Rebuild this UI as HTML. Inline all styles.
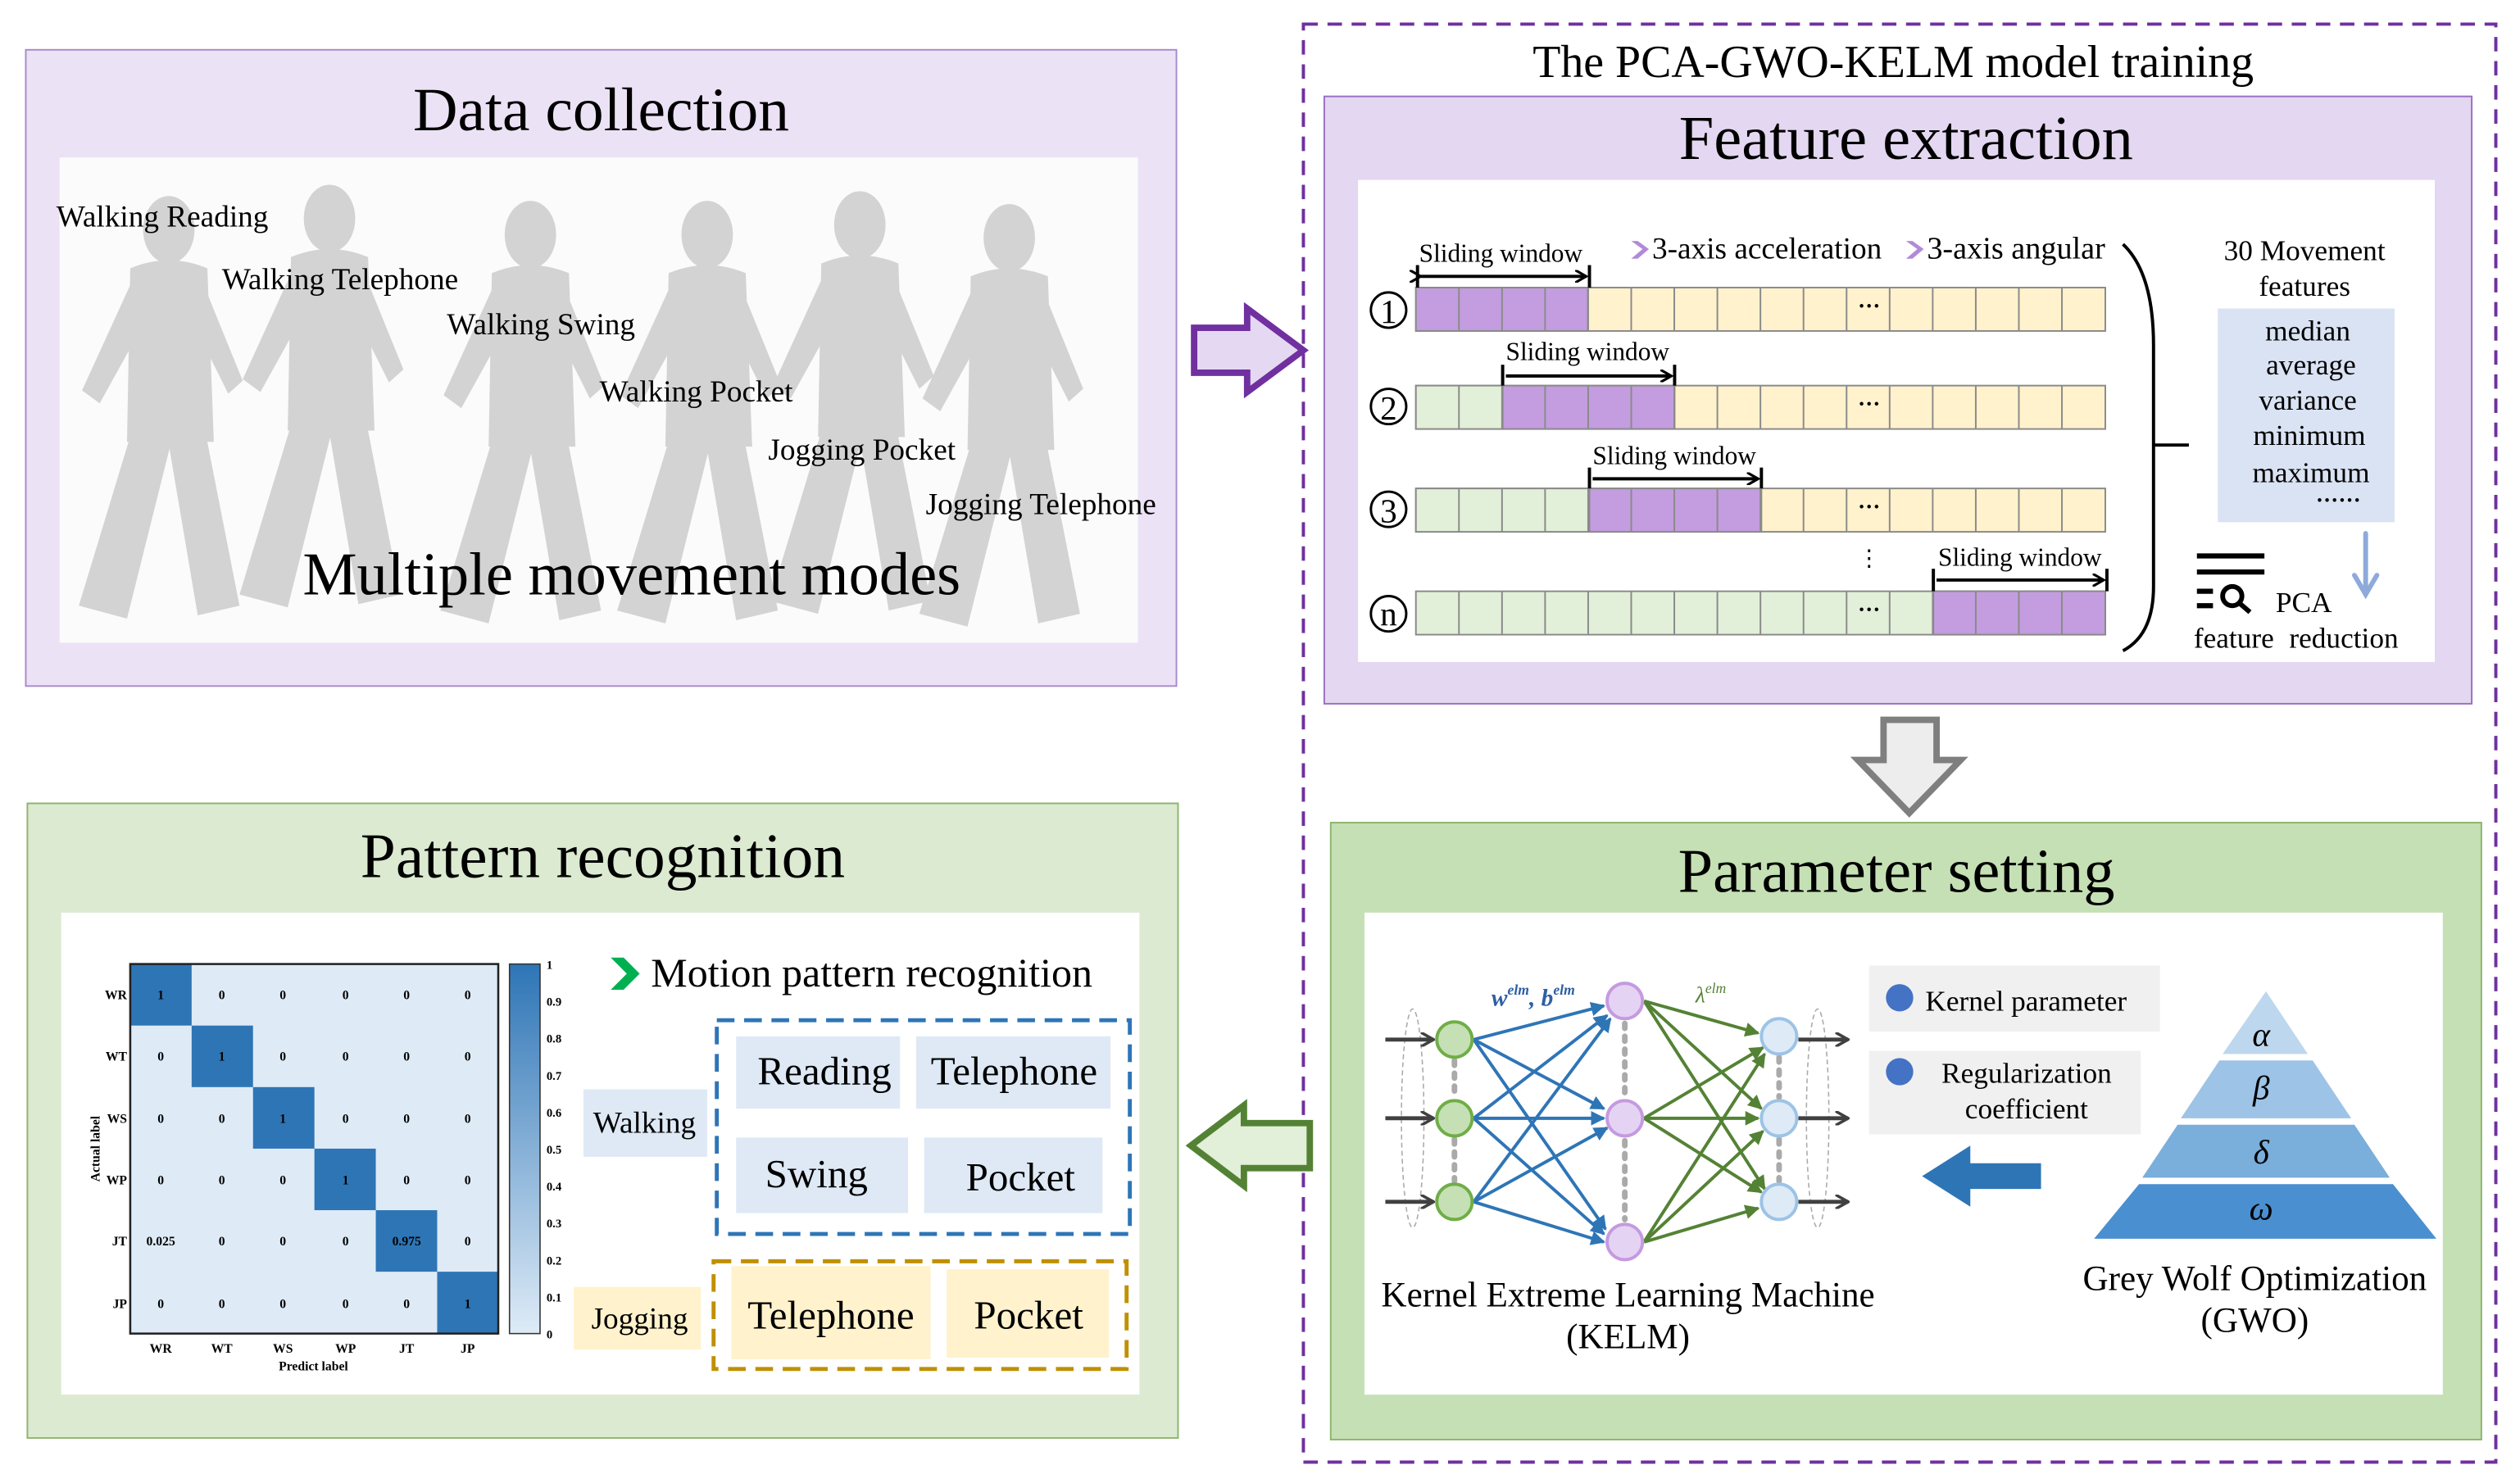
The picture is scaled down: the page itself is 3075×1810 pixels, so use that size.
<!DOCTYPE html>
<html><head><meta charset="utf-8"><style>
html,body{margin:0;padding:0;background:#fff;}
svg{display:block;}
text{font-family:"Liberation Serif",serif;fill:#000;}
</style></head><body>
<svg width="3075" height="1810" viewBox="0 0 1568 923" xmlns="http://www.w3.org/2000/svg">
<defs>
<marker id="ah" markerWidth="8" markerHeight="8" refX="7" refY="4" orient="auto" markerUnits="userSpaceOnUse"><path d="M0,0 L7,4 L0,8" fill="none" stroke="#000" stroke-width="1.6"/></marker>
<marker id="ab" markerWidth="9" markerHeight="9" refX="8" refY="4.5" orient="auto" markerUnits="userSpaceOnUse"><path d="M0,0 L9,4.5 L0,9 z" fill="#2e75b6"/></marker>
<marker id="ag" markerWidth="9" markerHeight="9" refX="8" refY="4.5" orient="auto" markerUnits="userSpaceOnUse"><path d="M0,0 L9,4.5 L0,9 z" fill="#548235"/></marker>
<marker id="ak" markerWidth="9" markerHeight="9" refX="8" refY="4.5" orient="auto" markerUnits="userSpaceOnUse"><path d="M0,0 L8,4.5 L0,9" fill="none" stroke="#404040" stroke-width="1.8"/></marker>
<linearGradient id="cb" x1="0" y1="1" x2="0" y2="0"><stop offset="0" stop-color="#deebf7"/><stop offset="1" stop-color="#2e75b6"/></linearGradient>
<g id="person" fill="#d3d3d3">
<ellipse cx="0" cy="18" rx="16" ry="21"/>
<path d="M-24,42 Q0,32 24,42 L28,150 L-26,150 Z"/>
<path d="M-22,140 L4,140 L-26,260 L-56,252 Z"/>
<path d="M-2,140 L22,140 L44,252 L18,258 Z"/>
<path d="M-22,48 L-54,118 L-43,126 L-12,70 Z"/>
<path d="M20,48 L46,112 L37,120 L12,70 Z"/>
</g>
<path id="grid" d="M907.8,0V27M934.6,0V27M961.4,0V27M988.2,0V27M1015,0V27M1041.8,0V27M1068.6,0V27M1095.4,0V27M1122.2,0V27M1149,0V27M1175.8,0V27M1202.6,0V27M1229.4,0V27M1256.2,0V27M1283,0V27" stroke="#8a8a8a" stroke-width="1"/>
</defs>

<!-- Data collection -->
<rect x="16" y="31" width="716" height="396" fill="#ece2f5" stroke="#a98bcc" stroke-width="1"/>
<text x="374" y="81" font-size="38.5" text-anchor="middle">Data collection</text>
<rect x="37" y="98" width="671" height="302" fill="#fbfbfb"/>
<use href="#person" transform="translate(105,125)"/>
<use href="#person" transform="translate(205,118)"/>
<use href="#person" transform="translate(330,128)"/>
<use href="#person" transform="translate(440,128)"/>
<use href="#person" transform="translate(535,122)"/>
<use href="#person" transform="translate(628,130)"/>
<g font-size="19">
<text x="35" y="141">Walking Reading</text>
<text x="138" y="180">Walking Telephone</text>
<text x="278" y="208">Walking Swing</text>
<text x="373" y="250">Walking Pocket</text>
<text x="478" y="286">Jogging Pocket</text>
<text x="576" y="320">Jogging Telephone</text>
</g>
<text x="393" y="370" font-size="38" text-anchor="middle">Multiple movement modes</text>

<!-- purple hollow arrow -->
<path d="M743,204 L776,204 L776,192 L811,218 L776,244 L776,232 L743,232 Z" fill="#e5d8f2" stroke="#7030a0" stroke-width="4"/>

<!-- dashed box -->
<rect x="811" y="15" width="742" height="895" fill="none" stroke="#7030a0" stroke-width="2" stroke-dasharray="9,6"/>
<text x="1178" y="48" font-size="28.5" text-anchor="middle">The PCA-GWO-KELM model training</text>

<!-- Feature extraction -->
<rect x="824" y="60" width="714" height="378" fill="#e4d7f1" stroke="#9b6fc4" stroke-width="1"/>
<text x="1186" y="99" font-size="39" text-anchor="middle">Feature extraction</text>
<rect x="845" y="112" width="670" height="300" fill="#fff"/>

<g stroke="#8a8a8a" stroke-width="1">
<rect x="881" y="179" width="429" height="27" fill="#fff2cc"/>
<rect x="881" y="179" width="107" height="27" fill="#c39ddf"/>
<rect x="881" y="240" width="429" height="27" fill="#fff2cc"/>
<rect x="881" y="240" width="54" height="27" fill="#e2efd9"/>
<rect x="935" y="240" width="107" height="27" fill="#c39ddf"/>
<rect x="881" y="304" width="429" height="27" fill="#fff2cc"/>
<rect x="881" y="304" width="108" height="27" fill="#e2efd9"/>
<rect x="989" y="304" width="107" height="27" fill="#c39ddf"/>
<rect x="881" y="368" width="429" height="27" fill="#e2efd9"/>
<rect x="1203" y="368" width="107" height="27" fill="#c39ddf"/>
</g>
<use href="#grid" y="179"/><use href="#grid" y="240"/><use href="#grid" y="304"/><use href="#grid" y="368"/>
<g font-size="14" text-anchor="middle" font-weight="bold">
<text x="1163" y="195">···</text><text x="1163" y="256">···</text><text x="1163" y="320">···</text><text x="1163" y="384">···</text>
</g>
<text x="1163" y="352" font-size="14" text-anchor="middle">⋮</text>
<g font-size="24" text-anchor="middle">
<circle cx="864" cy="193" r="11" fill="none" stroke="#000" stroke-width="1.5"/><text x="864" y="201" font-size="21">1</text>
<circle cx="864" cy="253" r="11" fill="none" stroke="#000" stroke-width="1.5"/><text x="864" y="261" font-size="21">2</text>
<circle cx="864" cy="317" r="11" fill="none" stroke="#000" stroke-width="1.5"/><text x="864" y="325" font-size="21">3</text>
<circle cx="864" cy="382" r="11" fill="none" stroke="#000" stroke-width="1.5"/><text x="864" y="389" font-size="21">n</text>
</g>
<g stroke="#000" stroke-width="2">
<line x1="882" y1="165" x2="882" y2="179"/><line x1="989" y1="165" x2="989" y2="179"/>
<line x1="884" y1="172" x2="987" y2="172" marker-end="url(#ah)" marker-start="url(#ah)"/>
<line x1="935" y1="227" x2="935" y2="240"/><line x1="1042" y1="227" x2="1042" y2="240"/>
<line x1="937" y1="234" x2="1040" y2="234" marker-end="url(#ah)"/>
<line x1="989" y1="291" x2="989" y2="304"/><line x1="1096" y1="291" x2="1096" y2="304"/>
<line x1="991" y1="298" x2="1094" y2="298" marker-end="url(#ah)"/>
<line x1="1203" y1="354" x2="1203" y2="368"/><line x1="1311" y1="354" x2="1311" y2="368"/>
<line x1="1205" y1="361" x2="1309" y2="361" marker-end="url(#ah)"/>
</g>
<g font-size="16">
<text x="883" y="163">Sliding window</text>
<text x="937" y="224">Sliding window</text>
<text x="991" y="289">Sliding window</text>
<text x="1206" y="352">Sliding window</text>
</g>
<path d="M1015,150 L1022,155 L1015,161 L1019,161 L1026,155 L1019,150Z" fill="#b28ad9"/>
<text x="1028" y="161" font-size="19">3-axis acceleration</text>
<path d="M1186,150 L1193,155 L1186,161 L1190,161 L1197,155 L1190,150Z" fill="#b28ad9"/>
<text x="1199" y="161" font-size="19.5">3-axis angular</text>
<path d="M1321,152 Q1340,170 1340,215 L1340,365 Q1340,395 1321,405" fill="none" stroke="#000" stroke-width="2"/>
<line x1="1340" y1="277" x2="1362" y2="277" stroke="#000" stroke-width="2"/>
<text x="1434" y="162" font-size="18" text-anchor="middle">30 Movement</text>
<text x="1434" y="184" font-size="18" text-anchor="middle">features</text>
<rect x="1380" y="192" width="110" height="133" fill="#dae3f3"/>
<g font-size="18" text-anchor="middle">
<text x="1436" y="212">median</text><text x="1438" y="233">average</text><text x="1436" y="255">variance</text><text x="1437" y="277">minimum</text><text x="1438" y="300">maximum</text>
</g>
<text x="1455" y="316" font-size="14" text-anchor="middle" font-weight="bold">······</text>
<path d="M1472,332 L1472,368 M1465,358 L1472,370 L1479,358" stroke="#8eaadb" stroke-width="3" fill="none" stroke-linecap="round"/>
<g stroke="#000" stroke-width="3.2">
<line x1="1367" y1="346" x2="1409" y2="346"/><line x1="1367" y1="356" x2="1409" y2="356"/>
<line x1="1367" y1="368" x2="1377" y2="368"/><line x1="1367" y1="377" x2="1377" y2="377"/>
</g>
<circle cx="1389" cy="371" r="6" fill="none" stroke="#000" stroke-width="3"/>
<line x1="1393" y1="375" x2="1400" y2="381" stroke="#000" stroke-width="3"/>
<text x="1416" y="381" font-size="18">PCA</text>
<text x="1365" y="403" font-size="18" word-spacing="5">feature reduction</text>

<path d="M1172,448 L1205,448 L1205,473 L1220,473 L1188,506 L1156,473 L1172,473 Z" fill="#ededed" stroke="#7f7f7f" stroke-width="4"/>

<!-- Parameter setting -->
<rect x="828" y="512" width="716" height="384" fill="#c5e0b4" stroke="#8fb46e" stroke-width="1"/>
<text x="1180" y="555" font-size="39" text-anchor="middle">Parameter setting</text>
<rect x="849" y="568" width="671" height="300" fill="#fff"/>
<ellipse cx="879" cy="696" rx="7" ry="68" fill="none" stroke="#aaa" stroke-width="0.8" stroke-dasharray="3,2"/>
<ellipse cx="1131" cy="696" rx="7" ry="68" fill="none" stroke="#aaa" stroke-width="0.8" stroke-dasharray="3,2"/>
<g stroke="#404040" stroke-width="2.5">
<line x1="862" y1="647" x2="892" y2="647" marker-end="url(#ak)"/>
<line x1="862" y1="696" x2="892" y2="696" marker-end="url(#ak)"/>
<line x1="862" y1="748" x2="892" y2="748" marker-end="url(#ak)"/>
<line x1="1119" y1="647" x2="1150" y2="647" marker-end="url(#ak)"/>
<line x1="1119" y1="696" x2="1150" y2="696" marker-end="url(#ak)"/>
<line x1="1119" y1="748" x2="1150" y2="748" marker-end="url(#ak)"/>
</g>
<g stroke="#2e75b6" stroke-width="2">
<line x1="917" y1="647" x2="998" y2="626" marker-end="url(#ab)"/>
<line x1="917" y1="647" x2="998" y2="690" marker-end="url(#ab)"/>
<line x1="917" y1="647" x2="999" y2="765" marker-end="url(#ab)"/>
<line x1="917" y1="696" x2="1000" y2="632" marker-end="url(#ab)"/>
<line x1="917" y1="696" x2="998" y2="696" marker-end="url(#ab)"/>
<line x1="917" y1="696" x2="998" y2="768" marker-end="url(#ab)"/>
<line x1="917" y1="748" x2="1002" y2="634" marker-end="url(#ab)"/>
<line x1="917" y1="748" x2="1000" y2="702" marker-end="url(#ab)"/>
<line x1="917" y1="748" x2="998" y2="773" marker-end="url(#ab)"/>
</g>
<g stroke="#548235" stroke-width="2">
<line x1="1023" y1="623" x2="1094" y2="643" marker-end="url(#ag)"/>
<line x1="1023" y1="623" x2="1096" y2="690" marker-end="url(#ag)"/>
<line x1="1023" y1="623" x2="1098" y2="740" marker-end="url(#ag)"/>
<line x1="1023" y1="696" x2="1097" y2="652" marker-end="url(#ag)"/>
<line x1="1023" y1="696" x2="1094" y2="696" marker-end="url(#ag)"/>
<line x1="1023" y1="696" x2="1096" y2="742" marker-end="url(#ag)"/>
<line x1="1023" y1="773" x2="1098" y2="656" marker-end="url(#ag)"/>
<line x1="1023" y1="773" x2="1097" y2="704" marker-end="url(#ag)"/>
<line x1="1023" y1="773" x2="1094" y2="752" marker-end="url(#ag)"/>
</g>
<g stroke="#aaa" stroke-width="3.5" stroke-dasharray="3,5" stroke-linecap="round">
<line x1="905" y1="660" x2="905" y2="683"/><line x1="905" y1="709" x2="905" y2="735"/>
<line x1="1011" y1="637" x2="1011" y2="682"/><line x1="1011" y1="710" x2="1011" y2="759"/>
<line x1="1107" y1="658" x2="1107" y2="683"/><line x1="1107" y1="709" x2="1107" y2="735"/>
</g>
<g stroke-width="2">
<circle cx="905" cy="647" r="11" fill="#c5e0b4" stroke="#70ad47"/>
<circle cx="905" cy="696" r="11" fill="#c5e0b4" stroke="#70ad47"/>
<circle cx="905" cy="748" r="11" fill="#c5e0b4" stroke="#70ad47"/>
<circle cx="1011" cy="623" r="11" fill="#e5d3f3" stroke="#c59ae0"/>
<circle cx="1011" cy="696" r="11" fill="#e5d3f3" stroke="#c59ae0"/>
<circle cx="1011" cy="773" r="11" fill="#e5d3f3" stroke="#c59ae0"/>
<circle cx="1107" cy="645" r="11" fill="#deebf7" stroke="#9dc3e6"/>
<circle cx="1107" cy="696" r="11" fill="#deebf7" stroke="#9dc3e6"/>
<circle cx="1107" cy="748" r="11" fill="#deebf7" stroke="#9dc3e6"/>
</g>
<text x="928" y="626" font-size="15" font-style="italic" font-weight="bold" style="fill:#2e5fa3">w<tspan font-size="9" dy="-7">elm</tspan><tspan dy="7">, b</tspan><tspan font-size="9" dy="-7">elm</tspan></text>
<text x="1055" y="624" font-size="14" font-style="italic" style="fill:#548235">λ<tspan font-size="9" dy="-6">elm</tspan></text>
<text x="1013" y="813" font-size="22" text-anchor="middle">Kernel Extreme Learning Machine</text>
<text x="1013" y="839" font-size="22" text-anchor="middle">(KELM)</text>
<rect x="1163" y="601" width="181" height="41" fill="#f0f0f0"/>
<circle cx="1182" cy="621" r="8.5" fill="#4472c4"/>
<text x="1198" y="629" font-size="18">Kernel parameter</text>
<rect x="1163" y="654" width="169" height="52" fill="#f0f0f0"/>
<circle cx="1182" cy="667" r="8.5" fill="#4472c4"/>
<text x="1261" y="674" font-size="18" text-anchor="middle">Regularization</text>
<text x="1261" y="696" font-size="18" text-anchor="middle">coefficient</text>
<path d="M1270,724 L1226,724 L1226,713 L1196,732 L1226,751 L1226,740 L1270,740 Z" fill="#2e75b6"/>
<path d="M1410,617 L1436,656 L1383,656 Z" fill="#bdd7ee"/>
<path d="M1381,660 L1439,660 L1463,696 L1357,696 Z" fill="#9dc3e6"/>
<path d="M1355,700 L1465,700 L1487,733 L1333,733 Z" fill="#7aaedb"/>
<path d="M1331,737 L1489,737 L1516,771 L1303,771 Z" fill="#4a8fd0"/>
<g font-size="21" font-style="italic" text-anchor="middle">
<text x="1407" y="651">α</text><text x="1407" y="684">β</text><text x="1407" y="724">δ</text><text x="1407" y="759">ω</text>
</g>
<text x="1403" y="803" font-size="22" text-anchor="middle">Grey Wolf Optimization</text>
<text x="1403" y="829" font-size="22" text-anchor="middle">(GWO)</text>

<path d="M815,699 L774,699 L774,688 L741,713 L774,738 L774,727 L815,727 Z" fill="#e2efd9" stroke="#548235" stroke-width="4"/>

<!-- Pattern recognition -->
<rect x="17" y="500" width="716" height="395" fill="#dbead0" stroke="#8fb46e" stroke-width="1"/>
<text x="375" y="546" font-size="39.5" text-anchor="middle">Pattern recognition</text>
<rect x="38" y="568" width="671" height="300" fill="#fff"/>
<rect x="81" y="600" width="229" height="230" fill="#deebf7"/>
<g fill="#2e75b6">
<rect x="81" y="600" width="38.2" height="38.3"/>
<rect x="119.2" y="638.3" width="38.2" height="38.3"/>
<rect x="157.4" y="676.6" width="38.2" height="38.3"/>
<rect x="195.6" y="714.9" width="38.2" height="38.3"/>
<rect x="233.8" y="753.2" width="38.2" height="38.3"/>
<rect x="272" y="791.5" width="38" height="38.5"/>
</g>
<rect x="81" y="600" width="229" height="230" fill="none" stroke="#222" stroke-width="1.3"/>
<g font-size="8" text-anchor="middle" font-weight="bold">
<text x="100" y="622">1</text><text x="138" y="622">0</text><text x="176" y="622">0</text><text x="215" y="622">0</text><text x="253" y="622">0</text><text x="291" y="622">0</text>
<text x="100" y="660">0</text><text x="138" y="660">1</text><text x="176" y="660">0</text><text x="215" y="660">0</text><text x="253" y="660">0</text><text x="291" y="660">0</text>
<text x="100" y="699">0</text><text x="138" y="699">0</text><text x="176" y="699">1</text><text x="215" y="699">0</text><text x="253" y="699">0</text><text x="291" y="699">0</text>
<text x="100" y="737">0</text><text x="138" y="737">0</text><text x="176" y="737">0</text><text x="215" y="737">1</text><text x="253" y="737">0</text><text x="291" y="737">0</text>
<text x="100" y="775">0.025</text><text x="138" y="775">0</text><text x="176" y="775">0</text><text x="215" y="775">0</text><text x="253" y="775">0.975</text><text x="291" y="775">0</text>
<text x="100" y="814">0</text><text x="138" y="814">0</text><text x="176" y="814">0</text><text x="215" y="814">0</text><text x="253" y="814">0</text><text x="291" y="814">1</text>
<text x="79" y="622" text-anchor="end">WR</text><text x="79" y="660" text-anchor="end">WT</text><text x="79" y="699" text-anchor="end">WS</text><text x="79" y="737" text-anchor="end">WP</text><text x="79" y="775" text-anchor="end">JT</text><text x="79" y="814" text-anchor="end">JP</text>
<text x="100" y="842">WR</text><text x="138" y="842">WT</text><text x="176" y="842">WS</text><text x="215" y="842">WP</text><text x="253" y="842">JT</text><text x="291" y="842">JP</text>
<text x="195" y="853">Predict label</text>
<text transform="translate(62,715) rotate(-90)">Actual label</text>
</g>
<rect x="317" y="600" width="19" height="230" fill="url(#cb)" stroke="#333" stroke-width="0.8"/>
<g font-size="7.5" font-weight="bold">
<text x="340" y="603">1</text><text x="340" y="626">0.9</text><text x="340" y="649">0.8</text><text x="340" y="672">0.7</text><text x="340" y="695">0.6</text><text x="340" y="718">0.5</text><text x="340" y="741">0.4</text><text x="340" y="764">0.3</text><text x="340" y="787">0.2</text><text x="340" y="810">0.1</text><text x="340" y="833">0</text>
</g>
<path d="M380,596 L388,596 L398,606 L388,616 L380,616 L390,606 Z" fill="#00b050"/>
<text x="405" y="614" font-size="25.5">Motion pattern recognition</text>
<rect x="363" y="678" width="77" height="42" fill="#dee9f5"/>
<text x="401" y="705" font-size="19" text-anchor="middle">Walking</text>
<rect x="446" y="635" width="257" height="133" fill="none" stroke="#2e75b6" stroke-width="2.5" stroke-dasharray="11,6"/>
<rect x="458" y="645" width="102" height="45" fill="#dee9f5"/>
<rect x="570" y="645" width="121" height="45" fill="#dee9f5"/>
<rect x="458" y="708" width="107" height="47" fill="#dee9f5"/>
<rect x="575" y="708" width="111" height="47" fill="#dee9f5"/>
<g font-size="25" text-anchor="middle">
<text x="513" y="675">Reading</text><text x="631" y="675">Telephone</text>
<text x="508" y="739">Swing</text><text x="635" y="741">Pocket</text>
</g>
<rect x="357" y="801" width="79" height="39" fill="#fff2cc"/>
<text x="398" y="827" font-size="19" text-anchor="middle">Jogging</text>
<rect x="444" y="785" width="257" height="67" fill="none" stroke="#bf9000" stroke-width="2.5" stroke-dasharray="11,6"/>
<rect x="455" y="788" width="124" height="58" fill="#fff2cc"/>
<rect x="589" y="790" width="101" height="55" fill="#fff2cc"/>
<text x="517" y="827" font-size="25" text-anchor="middle">Telephone</text>
<text x="640" y="827" font-size="25" text-anchor="middle">Pocket</text>
</svg>
</body></html>
